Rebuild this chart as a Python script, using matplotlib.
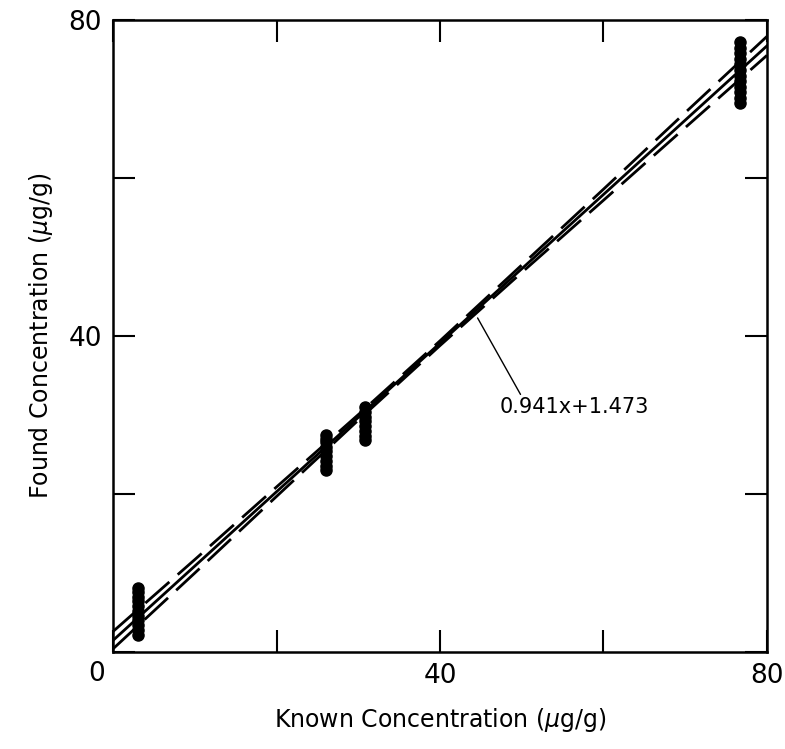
import matplotlib
matplotlib.use('Agg')
import matplotlib.pyplot as plt
import numpy as np

# measured points, one column per known concentration
known_x = [3.0, 26.0, 30.8, 76.7]
found = [
    [2.2, 2.8, 3.4, 4.0, 4.6, 5.2, 5.8, 6.4, 7.0, 7.6, 8.1],
    [23.0, 23.6, 24.2, 24.8, 25.4, 26.0, 26.6, 27.0, 27.5],
    [26.8, 27.4, 28.0, 28.6, 29.2, 29.8, 30.4, 31.0],
    [69.5, 70.2, 70.9, 71.6, 72.3, 73.0, 73.7, 74.4, 75.1, 75.8, 76.5, 77.2],
]

# regression line and confidence band
slope = 0.941
intercept = 1.473
band_x = [0, 10, 20, 30, 40, 50, 60, 70, 80]
band_upper = [2.6, 11.7, 20.9, 30.05, 39.4, 49.0, 58.6, 68.3, 77.95]
band_lower = [0.4, 10.0, 19.7, 29.35, 38.8, 48.05, 57.2, 66.4, 75.55]

ticks = [0, 20, 40, 60, 80]
tick_labels = ['', '', '40', '', '80']

plt.rcParams['font.family'] = ['DejaVu Sans']

fig = plt.figure(figsize=(7.85, 7.49), dpi=100)
ax = fig.add_axes([0.144, 0.1295, 0.833, 0.8435])

xx = np.array([0, 80])
ax.plot(xx, slope * xx + intercept, color='black', lw=2.0)
ax.plot(band_x, band_upper, color='black', lw=2.0, linestyle=(0, (11.5, 4)))
ax.plot(band_x, band_lower, color='black', lw=2.0, linestyle=(0, (11.5, 4)))

for x, ys in zip(known_x, found):
    ax.scatter([x] * len(ys), ys, s=64, color='black', zorder=3)

ax.annotate('0.941x+1.473', xy=(44.6, 42.3), xytext=(47.3, 31.0),
            fontsize=15, ha='left', va='center',
            arrowprops=dict(arrowstyle='-', color='black', lw=1.0,
                            shrinkA=0, shrinkB=0, relpos=(0.15, 1.0)))

ax.set_xlim(0, 80)
ax.set_ylim(0, 80)
ax.set_xticks(ticks)
ax.set_yticks(ticks)
ax.set_xticklabels(tick_labels)
ax.set_yticklabels(tick_labels)
ax.tick_params(direction='in', length=16, width=1.5, labelsize=19,
               top=True, right=True, pad=8)
for sp in ax.spines.values():
    sp.set_linewidth(1.8)

# single "0" shared by both axes, sitting just left of the corner
ax.text(-0.025, -0.015, '0', transform=ax.transAxes, fontsize=19,
        ha='center', va='top')

ax.set_xlabel(r'Known Concentration ($\mu$g/g)', fontsize=17, labelpad=12)
ax.set_ylabel(r'Found Concentration ($\mu$g/g)', fontsize=17, labelpad=10)

fig.savefig('out.png', dpi=100)
